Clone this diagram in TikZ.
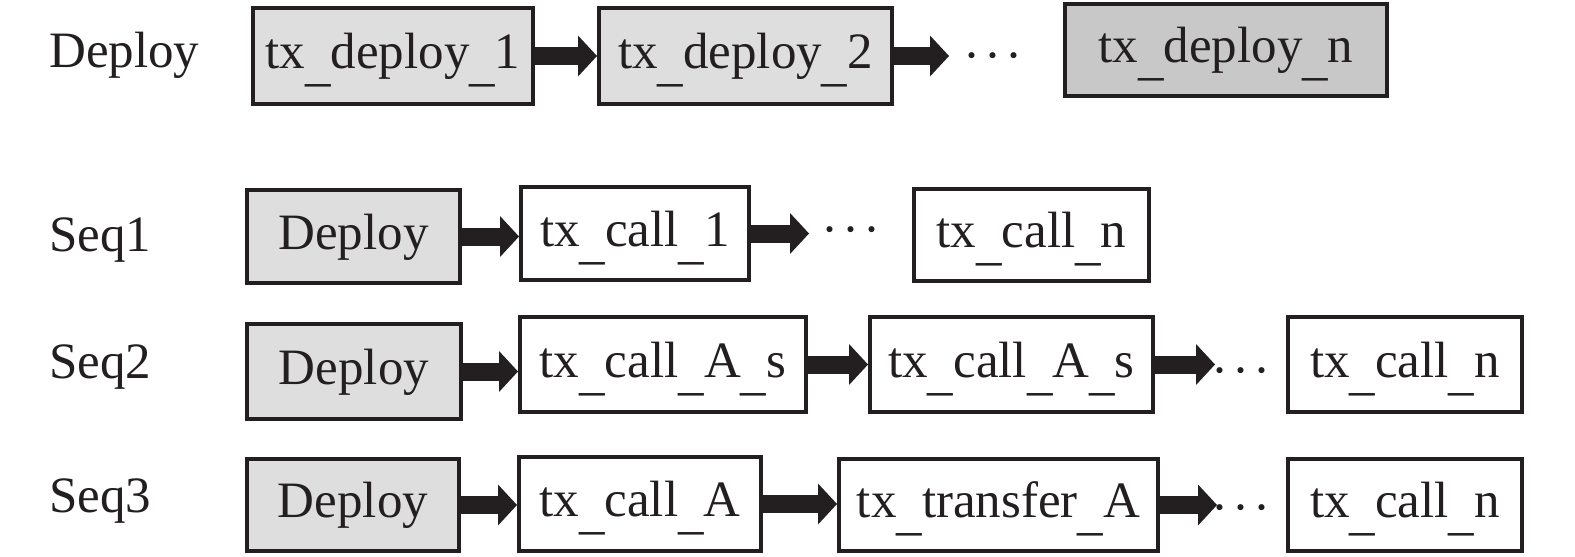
\documentclass[tikz,border=0pt]{standalone}
\usepackage{fontspec}
\setmainfont{Liberation Serif}
\usetikzlibrary{arrows.meta}
\definecolor{ink}{HTML}{231F20}
\definecolor{lightg}{HTML}{DEDEDE}
\definecolor{darkg}{HTML}{C8C8C8}
\newcommand{\mydots}{\char"00B7\kern4pt\char"00B7\kern4pt\char"00B7}
\newcommand{\us}{\raisebox{-12pt}{\_}}
\begin{document}
\begin{tikzpicture}[x=1pt,y=-1pt,
  txt/.style={font=\fontsize{51pt}{60pt}\selectfont, text=ink},
  box/.style={txt, draw=ink, fill=white, line width=4pt, inner sep=0pt, text height=36pt, text depth=11pt},
  gbox/.style={box, fill=lightg},
  conn/.style={draw=ink, line width=18pt, -{Triangle[length=19pt 0 0, width=41pt 0, line width=0pt 0 0]}},
  lab/.style={txt, anchor=base west, inner sep=0pt},
  dotsnode/.style={txt, anchor=mid, inner sep=0pt}
]
\useasboundingbox (0,0) rectangle (1575,557);

% Row 1
\node[lab] (l0) at (49,67) {Deploy};
\node[gbox, minimum width=280pt, minimum height=96pt] (d1) at (393,56) {tx\us deploy\us 1};
\node[gbox, minimum width=293pt, minimum height=96pt] (d2) at (745.5,56) {tx\us deploy\us 2};
\node[box, fill=darkg, minimum width=322pt, minimum height=92pt] (dn) at (1226,50) {tx\us deploy\us n};
\coordinate (e0) at (949,56);
\node[dotsnode] (dots0) at (993,70) {\mydots};
\draw[conn] (d1.east) -- (d1.east -| d2.west);
\draw[conn] (d2.east) -- (e0);

% Seq1
\node[lab] (l1) at (49,251) {Seq1};
\node[gbox, minimum width=213pt, minimum height=93pt] (s1d) at (353.5,236.5) {Deploy};
\node[box, minimum width=228pt, minimum height=93pt] (s1a) at (635,233.5) {tx\us call\us 1};
\node[box, minimum width=235pt, minimum height=92pt] (s1n) at (1031.5,235) {tx\us call\us n};
\coordinate (e1) at (809,233.5);
\node[dotsnode] (dots1) at (851,244) {\mydots};
\draw[conn] (s1d.east) -- (s1d.east -| s1a.west);
\draw[conn] (s1a.east) -- (e1);

% Seq2
\node[lab] (l2) at (49,378) {Seq2};
\node[gbox, minimum width=214pt, minimum height=95pt] (s2d) at (354,371.5) {Deploy};
\node[box, minimum width=286pt, minimum height=95pt] (s2a) at (663,364.5) {tx\us call\us A\us s};
\node[box, minimum width=283pt, minimum height=95pt] (s2b) at (1011.5,364.5) {tx\us call\us A\us s};
\node[box, minimum width=234pt, minimum height=95pt] (s2n) at (1405,364.5) {tx\us call\us n};
\coordinate (e2) at (1215,364.5);
\node[dotsnode] (dots2) at (1241,385) {\mydots};
\draw[conn] (s2d.east) -- (s2d.east -| s2a.west);
\draw[conn] (s2a.east) -- (s2a.east -| s2b.west);
\draw[conn] (s2b.east) -- (e2);

% Seq3
\node[lab] (l3) at (49,512) {Seq3};
\node[gbox, minimum width=212pt, minimum height=92pt] (s3d) at (353,505) {Deploy};
\node[box, minimum width=242pt, minimum height=94pt] (s3a) at (640,504) {tx\us call\us A};
\node[box, minimum width=319pt, minimum height=92pt] (s3b) at (998.5,505) {tx\us transfer\us A};
\node[box, minimum width=234pt, minimum height=92pt] (s3n) at (1405,505) {tx\us call\us n};
\coordinate (e3) at (1217,505);
\node[dotsnode] (dots3) at (1241,522) {\mydots};
\draw[conn] (s3d.east) -- (s3d.east -| s3a.west);
\draw[conn] (s3a.east) -- (s3a.east -| s3b.west);
\draw[conn] (s3b.east) -- (e3);
\end{tikzpicture}
\end{document}
